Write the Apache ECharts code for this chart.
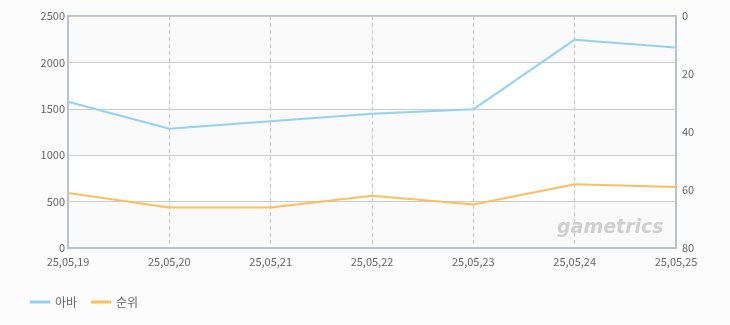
<!DOCTYPE html>
<html><head><meta charset="utf-8">
<script src="https://cdn.jsdelivr.net/npm/echarts@6/dist/echarts.min.js"></script>
<style>html,body{margin:0;padding:0;background:#fcfcfc;}#c{width:730px;height:325px;}</style>
</head><body><div id="c"></div>
<script>
const categories = ['25,05,19','25,05,20','25,05,21','25,05,22','25,05,23','25,05,24','25,05,25'];
const abaValues = [1575, 1285, 1365, 1447, 1494, 2245, 2160];
const rankValues = [61, 66, 66, 62, 65, 58, 59];
const leftTicks = {min: 0, max: 2500, interval: 500};
const rightTicks = {min: 0, max: 80, interval: 20};

const chart = echarts.init(document.getElementById('c'), null, {renderer: 'canvas'});
const font = '"Noto Sans CJK KR", "DejaVu Sans", sans-serif';
chart.setOption({
  backgroundColor: '#fcfcfc',
  animation: false,
  textStyle: {fontFamily: font},
  grid: {left: 68, right: 54, top: 16, bottom: 77, show: true, borderColor: '#b4c4d6', borderWidth: 2, backgroundColor: 'transparent'},
  legend: {
    left: 25, top: 291, itemWidth: 20, itemHeight: 3, itemGap: 14,
    icon: 'rect',
    textStyle: {color: '#666', fontSize: 12, fontFamily: font},
    data: ['아바', '순위']
  },
  xAxis: {
    type: 'category', data: categories, boundaryGap: false,
    axisLine: {show: true, lineStyle: {color: '#b4c4d6', width: 2}},
    axisTick: {show: false},
    axisLabel: {color: '#666', fontSize: 11, margin: 8, fontFamily: font},
    splitLine: {show: true, lineStyle: {color: '#c8c8c8', type: [4, 3], width: 1}}
  },
  yAxis: [
    {
      type: 'value', min: leftTicks.min, max: leftTicks.max, interval: leftTicks.interval,
      axisLine: {show: true, lineStyle: {color: '#b4c4d6', width: 2}},
      axisTick: {show: false},
      axisLabel: {color: '#666', fontSize: 11, margin: 3, fontFamily: font, formatter: v => String(v)},
      splitLine: {show: true, lineStyle: {color: '#cccccc', width: 1}},
      splitArea: {show: true, areaStyle: {color: ['#fafafa', '#ffffff']}}
    },
    {
      type: 'value', inverse: true, min: rightTicks.min, max: rightTicks.max, interval: rightTicks.interval,
      axisLine: {show: true, lineStyle: {color: '#b4c4d6', width: 2}},
      axisTick: {show: false},
      axisLabel: {color: '#666', fontSize: 11, margin: 6, fontFamily: font},
      splitLine: {show: false}
    }
  ],
  graphic: [{
    type: 'text', left: 557, top: 219, z: 1,
    style: {text: 'gametrics', fill: '#cfcfcf', font: 'italic bold 19px "DejaVu Sans", sans-serif'}
  }],
  series: [
    {name: '아바', type: 'line', yAxisIndex: 0, data: abaValues, symbol: 'none',
     lineStyle: {color: '#93d2f2', width: 2}, itemStyle: {color: '#93d2f2'}, z: 3},
    {name: '순위', type: 'line', yAxisIndex: 1, data: rankValues, symbol: 'none',
     lineStyle: {color: '#ffbe5c', width: 2}, itemStyle: {color: '#ffbe5c'}, z: 3}
  ]
});
</script></body></html>
